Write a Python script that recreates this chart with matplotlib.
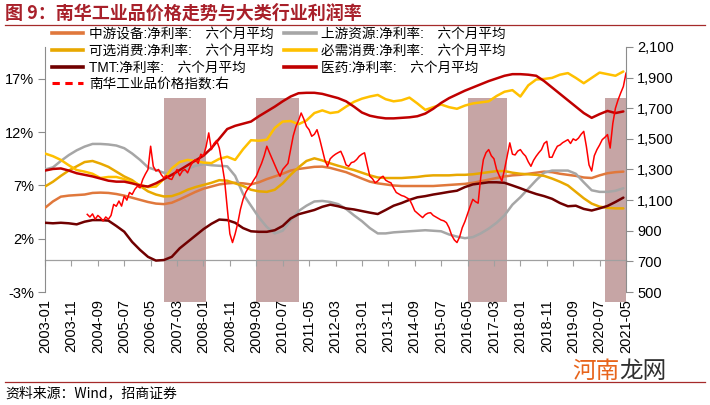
import matplotlib
matplotlib.use('Agg')
import matplotlib.pyplot as plt
from matplotlib.lines import Line2D
import pandas as pd

plt.rcParams['font.family'] = ['Liberation Sans', 'Noto Sans CJK SC']

# ---------------- data ----------------
tick_labels = ['2003-01', '2003-11', '2004-09', '2005-07', '2006-05', '2007-03', '2008-01',
               '2008-11', '2009-09', '2010-07', '2011-05', '2012-03', '2013-01', '2013-11',
               '2014-09', '2015-07', '2016-05', '2017-03', '2018-01', '2018-11', '2019-09',
               '2020-07', '2021-05']

smooth_dates = pd.date_range('2003-01-01', '2021-04-01', freq='3MS')  # quarterly points

midstream = [4.9, 5.5, 5.95, 6.05, 6.1, 6.15, 6.3, 6.33, 6.3, 6.2, 6.05, 5.85, 5.65, 5.45, 5.3,
             5.25, 5.38, 5.7, 6.05, 6.4, 6.7, 6.9, 7.1, 7.2, 7.25, 7.2, 7.1, 7.3, 7.6, 7.85,
             8.1, 8.4, 8.55, 8.65, 8.75, 8.77, 8.65, 8.45, 8.25, 7.95, 7.65, 7.36, 7.2, 7.1,
             7.0, 6.95, 6.95, 6.95, 6.95, 6.95, 7.0, 7.05, 7.1, 7.15, 7.25, 7.4, 7.55, 7.7,
             7.85, 7.95, 8.0, 8.1, 8.2, 8.3, 8.25, 8.1, 8.0, 7.9, 7.75, 7.7, 7.95, 8.15, 8.25, 8.3]
upstream = [8.5, 8.7, 9.3, 9.85, 10.3, 10.65, 10.9, 10.9, 10.85, 10.75, 10.5, 10.0, 9.4, 8.7,
            8.45, 8.2, 8.0, 8.2, 8.55, 8.85, 9.0, 8.9, 8.85, 8.8, 7.9, 6.2, 5.1, 4.0, 3.1, 2.5,
            2.75, 3.7, 4.6, 5.1, 5.5, 5.55, 5.45, 5.25, 4.8, 4.2, 3.65, 3.0, 2.5, 2.5, 2.6, 2.65,
            2.7, 2.75, 2.8, 2.75, 2.7, 2.4, 2.2, 2.05, 2.15, 2.5, 2.95, 3.5, 4.2, 5.2, 5.9, 6.7,
            7.5, 8.2, 8.4, 8.4, 8.4, 8.1, 7.3, 6.55, 6.4, 6.4, 6.5, 6.74]
discretionary = [6.9, 7.35, 7.9, 8.4, 8.8, 9.2, 9.3, 9.05, 8.75, 8.3, 7.85, 7.5, 6.95, 6.45, 6.15,
                 5.97, 6.0, 6.25, 6.6, 6.85, 7.05, 7.25, 7.5, 7.45, 7.2, 6.95, 6.6, 6.45, 6.4, 6.6,
                 7.2, 8.0, 8.7, 9.3, 9.55, 9.35, 9.08, 8.85, 8.65, 8.45, 8.2, 7.95, 7.75, 7.7, 7.7,
                 7.7, 7.75, 7.8, 7.9, 7.95, 7.95, 7.95, 8.0, 8.0, 8.05, 8.15, 8.25, 8.35, 8.35, 8.2,
                 8.1, 8.05, 8.0, 7.9, 7.65, 7.35, 7.0, 6.4, 5.8, 5.3, 5.01, 4.9, 4.85, 4.85]
staples = [10.0, 9.75, 9.4, 8.9, 8.45, 8.3, 8.1, 7.7, 7.8, 7.8, 7.6, 7.3, 7.05, 6.85, 6.9, 7.6,
           8.6, 9.2, 9.4, 9.3, 9.15, 9.1, 9.5, 9.7, 9.4, 10.4, 11.25, 11.2, 11.3, 12.4, 13.0,
           13.05, 12.75, 13.1, 13.8, 14.05, 13.8, 13.9, 14.4, 14.85, 15.15, 15.35, 15.5, 15.1,
           14.9, 15.0, 15.25, 14.7, 14.1, 14.35, 14.6, 14.35, 14.2, 14.5, 14.7, 14.8, 14.9, 15.4,
           15.8, 15.95, 15.35, 16.4, 16.95, 17.0, 17.1, 17.4, 17.55, 17.1, 16.6, 17.1, 17.6,
           17.45, 17.3, 17.7]
tmt = [3.5, 3.45, 3.5, 3.45, 3.35, 3.6, 3.75, 3.75, 3.7, 3.2, 2.66, 1.7, 0.95, 0.3, -0.05, 0.0,
       0.3, 1.1, 1.7, 2.3, 2.9, 3.4, 3.8, 3.75, 3.5, 3.0, 2.7, 2.65, 2.65, 2.8, 3.2, 3.9, 4.3,
       4.5, 4.7, 5.0, 5.2, 5.05, 4.85, 4.75, 4.6, 4.45, 4.32, 4.7, 5.1, 5.35, 5.65, 5.89, 6.0,
       6.15, 6.27, 6.4, 6.51, 6.85, 7.1, 7.2, 7.3, 7.3, 7.25, 7.0, 6.74, 6.45, 6.2, 6.0, 5.75,
       5.35, 5.05, 5.1, 4.8, 4.65, 4.85, 5.08, 5.45, 5.86]
pharma = [8.4, 8.55, 8.6, 8.4, 8.15, 8.0, 7.85, 7.65, 7.45, 7.36, 7.36, 7.2, 7.0, 6.9, 7.2, 7.6,
          8.0, 8.45, 8.9, 9.35, 9.8, 10.5, 11.4, 12.3, 12.6, 12.8, 13.0, 13.5, 13.95, 14.4, 14.9,
          15.35, 15.66, 15.7, 15.7, 15.6, 15.4, 15.2, 14.9, 14.4, 13.85, 13.55, 13.4, 13.3, 13.3,
          13.35, 13.4, 13.5, 13.75, 14.2, 14.75, 15.2, 15.55, 15.9, 16.2, 16.5, 16.8, 17.05,
          17.3, 17.45, 17.45, 17.4, 17.3, 16.8, 16.2, 15.6, 15.0, 14.4, 13.8, 13.35, 13.7, 14.0,
          13.8, 13.95]

nanhua_dates = pd.date_range('2004-05-01', '2021-05-01', freq='MS')  # monthly points
nanhua = [1007, 990, 1010, 975, 1000, 985, 964, 990, 975, 1000,
          1072, 1060, 1094, 1061, 1126, 1100, 1150, 1137, 1170, 1191,
          1180, 1235, 1270, 1300, 1452, 1321, 1290, 1300, 1267, 1245,
          1260, 1240, 1235, 1270, 1300, 1260, 1290, 1300, 1278, 1320,
          1350, 1365, 1340, 1400, 1387, 1450, 1539, 1430, 1470, 1490,
          1440, 1340, 1230, 1050, 880, 823, 880, 950, 1040, 1105,
          1150, 1180, 1200, 1230, 1256, 1300, 1340, 1390, 1452, 1410,
          1370, 1330, 1290, 1256, 1300, 1320, 1340, 1430, 1520, 1580,
          1620, 1669, 1630, 1582, 1560, 1517, 1530, 1560, 1500, 1430,
          1360, 1321, 1370, 1387, 1400, 1410, 1419, 1380, 1330, 1321,
          1345, 1350, 1365, 1387, 1400, 1409, 1330, 1256, 1240, 1213,
          1225, 1245, 1256, 1230, 1220, 1213, 1180, 1150, 1140, 1130,
          1125, 1115, 1105, 1070, 1030, 1015, 1000, 986, 1005, 1015,
          1018, 1000, 990, 980, 970, 965, 953, 920, 870, 840,
          823, 860, 920, 960, 1010, 1060, 1105, 1090, 1080, 1250,
          1365, 1410, 1430, 1390, 1370, 1300, 1260, 1224, 1300, 1387,
          1474, 1400, 1395, 1420, 1430, 1405, 1387, 1350, 1321, 1360,
          1387, 1410, 1430, 1470, 1484, 1380, 1380, 1420, 1452, 1460,
          1475, 1485, 1495, 1470, 1500, 1490, 1505, 1530, 1549, 1450,
          1330, 1290, 1390, 1430, 1460, 1495, 1510, 1528, 1440, 1600,
          1700, 1755, 1800, 1842, 1929]

band_starts = ['2006-10', '2009-09', '2016-05', '2020-09']
band_ends = ['2008-02', '2011-01', '2017-08', '2021-05']
band_top = 1770      # right-axis value of shaded band top
band_bottom = 433    # right-axis value of shaded band bottom

left_ticks = [-3, 2, 7, 12, 17]
right_ticks = [500, 700, 900, 1100, 1300, 1500, 1700, 1900, 2100]

labels = {
    'mid': '中游设备:净利率:\u3000六个月平均',
    'up': '上游资源:净利率:\u3000六个月平均',
    'disc': '可选消费:净利率:\u3000六个月平均',
    'stap': '必需消费:净利率:\u3000六个月平均',
    'tmt': 'TMT:净利率:\u3000六个月平均',
    'pharma': '医药:净利率:\u3000六个月平均',
    'nanhua': '南华工业品价格指数:右',
}
colors = {
    'mid': '#E0783C', 'up': '#A6A6A6', 'disc': '#E8A800', 'stap': '#FFC000',
    'tmt': '#700000', 'pharma': '#C00000', 'nanhua': '#FF0000',
}


def mpos(d):
    d = pd.Timestamp(d)
    return (d.year - 2003) * 12 + d.month - 1


# ---------------- figure ----------------
W, H = 710, 405
fig = plt.figure(figsize=(W / 100, H / 100), dpi=100)
ax = fig.add_axes([45 / W, 1 - 292 / H, (626 - 45) / W, (292 - 47) / H])
ax.set_xlim(0, 220)
ax.set_ylim(-3, 20)
ax.patch.set_visible(False)
ax2 = ax.twinx()
ax2.set_ylim(500, 2100)

grey = '#8C8C8C'

# shaded bands (heights from the right-axis scale)
lo, hi = ax2.get_ylim()
for s, e in zip(band_starts, band_ends):
    ax.axvspan(mpos(s), mpos(e), ymin=(band_bottom - lo) / (hi - lo),
               ymax=(band_top - lo) / (hi - lo), facecolor='#C6A5A5', edgecolor='none',
               zorder=0, clip_on=False)

sx = [mpos(d) for d in smooth_dates]
series = [('mid', midstream), ('up', upstream), ('disc', discretionary),
          ('stap', staples), ('tmt', tmt), ('pharma', pharma)]
lw = 1.8
for key, vals in series:
    ax.plot(sx, vals, color=colors[key], lw=lw, solid_capstyle='round', zorder=3)

nx = [mpos(d) for d in nanhua_dates]
ax2.plot(nx, nanhua, color=colors['nanhua'], lw=1.1, zorder=4)

# axes styling
for sp in ['top', 'right']:
    ax.spines[sp].set_visible(False)
for sp in ['top', 'left', 'bottom']:
    ax2.spines[sp].set_visible(False)
ax.spines['left'].set_color(grey)
ax2.spines['right'].set_color(grey)
ax.spines['left'].set_linewidth(0.8)
ax2.spines['right'].set_linewidth(0.8)

ax.spines['bottom'].set_position(('data', 0))
ax.spines['bottom'].set_color('#A0A0A0')
ax.spines['bottom'].set_linewidth(0.9)
ax.spines['bottom'].set_zorder(1)

tpos = [mpos(t) for t in tick_labels]
ax.set_xticks(tpos)
ax.tick_params(axis='x', direction='out', length=4, width=0.8, color='#A0A0A0',
               labelbottom=False)
sec = ax.secondary_xaxis('bottom')
sec.set_xticks(tpos, labels=tick_labels)
sec.tick_params(length=0, pad=5, labelsize=10.5, labelrotation=90)
sec.spines['bottom'].set_visible(False)

ax.set_yticks(left_ticks, labels=[f'{v}%' for v in left_ticks])
ax.tick_params(axis='y', direction='out', length=5, width=0.8, color=grey, pad=3,
               labelsize=10.5)
ax2.set_yticks(right_ticks, labels=[f'{v:,}' for v in right_ticks])
ax2.tick_params(axis='y', direction='out', length=5, width=0.8, color=grey, pad=3,
                labelsize=10.5)

# legend (column-major order to get the row layout of the reference)
order = ['mid', 'disc', 'tmt', 'nanhua', 'up', 'stap', 'pharma']
handles = []
for k in order:
    if k == 'nanhua':
        handles.append(Line2D([], [], color=colors[k], lw=2.2, ls=(0, (2.4, 1.8))))
    else:
        handles.append(Line2D([], [], color=colors[k], lw=2.6))
fig.legend(handles, [labels[k] for k in order], ncol=2, loc='upper left',
           bbox_to_anchor=(52 / W, 1 - 27 / H), frameon=False,
           handlelength=2.3, handletextpad=0.4, columnspacing=0.8, labelspacing=0.2,
           borderpad=0, borderaxespad=0,
           prop={'family': ['Liberation Sans', 'Noto Sans CJK SC'], 'size': 9.8})

# title, rules, source
fig.text(5 / W, 1 - 13 / H, '图 9：南华工业品价格走势与大类行业利润率', fontsize=13,
         fontweight='bold', color='#A8202A', va='center', ha='left',
         family=['Noto Sans CJK SC', 'Liberation Sans'])
fig.add_artist(Line2D([5 / W, 705 / W], [1 - 24.5 / H] * 2, color='#A52A2A', lw=0.9,
                      transform=fig.transFigure))
fig.add_artist(Line2D([5 / W, 705 / W], [1 - 381.5 / H] * 2, color='#A52A2A', lw=0.9,
                      transform=fig.transFigure))
fig.text(5 / W, 1 - 393 / H, '资料来源：Wind，招商证券', fontsize=10, va='center', ha='left',
         family=['Noto Sans CJK SC', 'Liberation Sans'])
fig.text(572 / W, 1 - 371 / H, '河南', fontsize=17, color='#E8641B', va='center', ha='left',
         family=['Noto Sans CJK SC'])
fig.text(619 / W, 1 - 371 / H, '龙网', fontsize=17, color='#303030', va='center', ha='left',
         family=['Noto Sans CJK SC'])

fig.savefig('out.png', dpi=100)
